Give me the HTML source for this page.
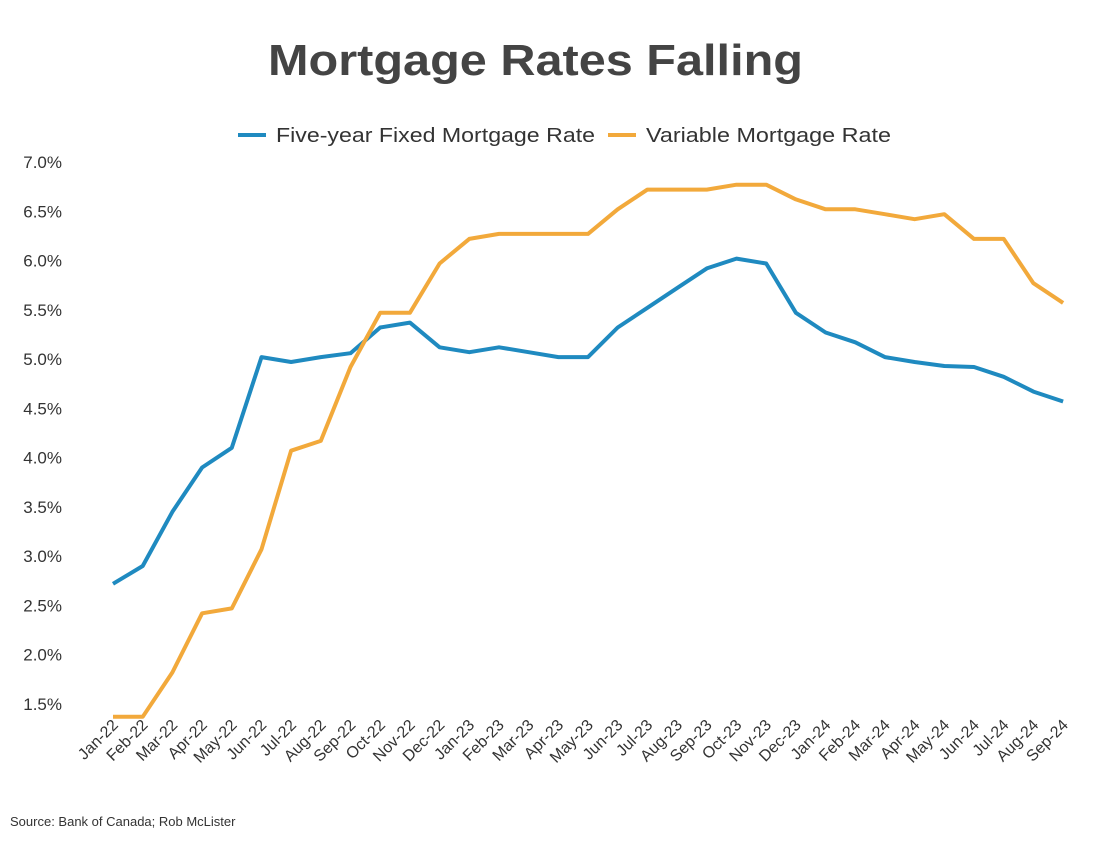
<!DOCTYPE html>
<html><head><meta charset="utf-8"><style>
html,body{margin:0;padding:0;background:#fff;}
svg{display:block;font-family:"Liberation Sans",sans-serif;}
</style></head><body>
<svg width="1112" height="850" viewBox="0 0 1112 850" xmlns="http://www.w3.org/2000/svg">
<text x="268" y="75" font-size="44" font-weight="bold" fill="#444" textLength="535" lengthAdjust="spacingAndGlyphs">Mortgage Rates Falling</text>
<line x1="238" y1="135" x2="266" y2="135" stroke="#1f8ac0" stroke-width="4"/>
<text x="276" y="142" font-size="20" fill="#333" textLength="319" lengthAdjust="spacingAndGlyphs">Five-year Fixed Mortgage Rate</text>
<line x1="608" y1="135" x2="636" y2="135" stroke="#f2a93b" stroke-width="4"/>
<text x="646" y="142" font-size="20" fill="#333" textLength="245" lengthAdjust="spacingAndGlyphs">Variable Mortgage Rate</text>
<g font-size="17" fill="#333" text-anchor="end" id="yl"></g>
<g id="xl" font-size="16" fill="#333"></g>
<polyline id="fx" fill="none" stroke="#1f8ac0" stroke-width="4" stroke-linejoin="round"/>
<polyline id="vr" fill="none" stroke="#f2a93b" stroke-width="4" stroke-linejoin="round"/>
<text x="10" y="826" font-size="13" fill="#333">Source: Bank of Canada; Rob McLister</text>
<script>
var ns="http://www.w3.org/2000/svg";
function Y(v){return 162+(7-v)/0.5*49.27;}
function X(i){return 113+i*29.69;}
var yl=document.getElementById('yl');
for(var v=1.5;v<=7.001;v+=0.5){var t=document.createElementNS(ns,'text');t.setAttribute('x',62);t.setAttribute('y',Y(v)+6);t.textContent=v.toFixed(1)+'%';yl.appendChild(t);}
var m=['Jan','Feb','Mar','Apr','May','Jun','Jul','Aug','Sep','Oct','Nov','Dec'];
var xl=document.getElementById('xl');
for(var i=0;i<33;i++){var t=document.createElementNS(ns,'text');var x=X(i)+6,y=726;t.setAttribute('x',x);t.setAttribute('y',y);t.setAttribute('text-anchor','end');t.setAttribute('transform','rotate(-45 '+x+' '+y+')');t.textContent=m[i%12]+'-'+(22+Math.floor(i/12));xl.appendChild(t);}
var f=[2.72,2.9,3.45,3.9,4.1,5.02,4.97,5.02,5.06,5.32,5.37,5.12,5.07,5.12,5.07,5.02,5.02,5.32,5.52,5.72,5.92,6.02,5.97,5.47,5.27,5.17,5.02,4.97,4.93,4.92,4.82,4.67,4.57];
var r=[1.37,1.37,1.82,2.42,2.47,3.07,4.07,4.17,4.92,5.47,5.47,5.97,6.22,6.27,6.27,6.27,6.27,6.52,6.72,6.72,6.72,6.77,6.77,6.62,6.52,6.52,6.47,6.42,6.47,6.22,6.22,5.77,5.57];
function pts(a){return a.map(function(v,i){return X(i).toFixed(1)+','+Y(v).toFixed(1);}).join(' ');}
document.getElementById('fx').setAttribute('points',pts(f));
document.getElementById('vr').setAttribute('points',pts(r));
</script>
</svg>
</body></html>
